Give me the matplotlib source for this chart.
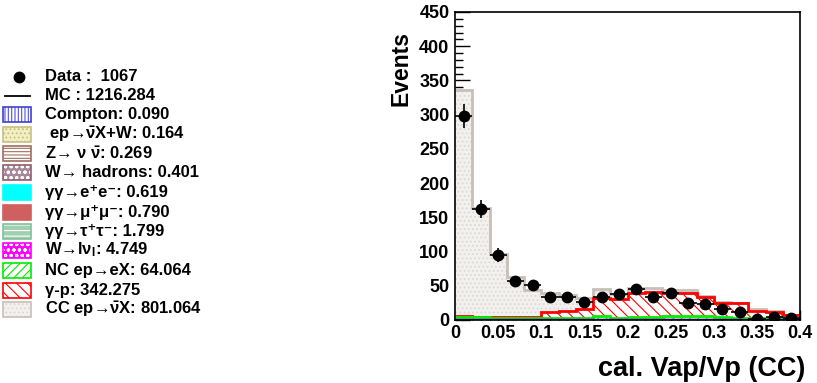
import numpy as np
import matplotlib
matplotlib.use('Agg')
import matplotlib.pyplot as plt
from matplotlib.patches import Rectangle
from matplotlib.lines import Line2D
from matplotlib.ticker import MultipleLocator, FormatStrFormatter

plt.rcParams['font.family'] = ['Liberation Sans', 'DejaVu Sans']
plt.rcParams['font.weight'] = 'bold'
plt.rcParams['mathtext.fontset'] = 'dejavusans'
plt.rcParams['mathtext.default'] = 'regular'
plt.rcParams['hatch.linewidth'] = 0.8

# bins: 20 bins of 0.02 from 0 to 0.4
edges = np.linspace(0, 0.4, 21)
centres = edges[:-1] + 0.01

# data points
data = [298, 162, 95, 57, 51, 34, 34, 26, 33, 38,
        45, 33, 40, 25, 24, 16, 11, 2, 5, 3]

# MC components, bottom of the stack first
compton = [0.01, 0.01, 0.01, 0, 0, 0, 0, 0, 0.01, 0, 0.01, 0, 0.01, 0, 0.01, 0, 0, 0.01, 0, 0.01]
ep_nu_w = [0.01, 0.01, 0.01, 0.01, 0.01, 0.01, 0.01, 0.01, 0.01, 0.01, 0.01, 0.01, 0.01, 0.01, 0.01, 0.01, 0.01, 0.01, 0.01, 0.0]
z_nunu = [0.02, 0.02, 0.01, 0.01, 0.01, 0.01, 0.01, 0.01, 0.01, 0.02, 0.02, 0.02, 0.02, 0.01, 0.02, 0.01, 0.01, 0.01, 0.01, 0.01]
w_had = [0.01, 0.01, 0.01, 0.01, 0.01, 0.02, 0.02, 0.02, 0.02, 0.03, 0.03, 0.03, 0.03, 0.03, 0.03, 0.02, 0.02, 0.02, 0.02, 0.01]
gg_ee = [0.05, 0.05, 0.04, 0.04, 0.03, 0.03, 0.03, 0.03, 0.03, 0.03, 0.03, 0.03, 0.03, 0.03, 0.03, 0.02, 0.02, 0.02, 0.02, 0.02]
gg_mumu = [0.06, 0.06, 0.05, 0.05, 0.04, 0.04, 0.04, 0.04, 0.04, 0.04, 0.04, 0.04, 0.04, 0.04, 0.03, 0.03, 0.03, 0.03, 0.03, 0.03]
gg_tautau = [0.15, 0.14, 0.12, 0.11, 0.10, 0.09, 0.09, 0.09, 0.09, 0.09, 0.09, 0.08, 0.08, 0.08, 0.07, 0.07, 0.07, 0.06, 0.06, 0.05]
w_lnu = [0.30, 0.30, 0.28, 0.27, 0.26, 0.25, 0.25, 0.24, 0.24, 0.24, 0.24, 0.23, 0.23, 0.23, 0.22, 0.22, 0.21, 0.21, 0.20, 0.20]
nc = [4.5, 4.0, 3.0, 3.0, 3.0, 2.5, 3.0, 3.0, 6.0, 3.0,
      3.5, 4.5, 5.0, 5.0, 5.0, 4.0, 3.0, 2.0, 2.0, 1.5]
gamma_p = [0.5, 0.5, 1, 1, 1, 9, 9, 13, 26, 27,
           36, 36, 34, 34, 28, 21, 21, 11, 10, 5]
cc = [331, 158, 92, 58, 39, 27, 24, 15, 13, 8,
      7, 6, 4, 4, 2, 1, 1, 2, 1, 1]

labels = ['Compton: 0.090',
          ' ep\u2192$\\bar{\\nu}$X+W: 0.164',
          'Z\u2192 \u03bd $\\bar{\\nu}$: 0.269',
          'W\u2192 hadrons: 0.401',
          '\u03b3\u03b3\u2192e\u207ae\u207b: 0.619',
          '\u03b3\u03b3\u2192\u03bc\u207a\u03bc\u207b: 0.790',
          '\u03b3\u03b3\u2192\u03c4\u207a\u03c4\u207b: 1.799',
          'W\u2192l\u03bd$_{l}$: 4.749',
          'NC ep\u2192eX: 64.064',
          '\u03b3-p: 342.275',
          'CC ep\u2192$\\bar{\\nu}$X: 801.064']

# (face, hatch, hatch colour, line colour)
styles = [('white', '|||||', '#5050e0', '#4040d0'),
          ('#f2eec8', '....', '#c8c070', '#c8c080'),
          ('white', '-----', '#a07060', '#a07060'),
          ('#a88898', 'ooo', 'white', '#906070'),
          ('#00ffff', '', '#00ffff', '#00ffff'),
          ('#d06060', '', '#d06060', '#d06060'),
          ('#a0d0b0', '---', 'white', '#80c0a0'),
          ('#ff00ff', 'ooo', 'white', '#ff00ff'),
          ('white', '////', '#00ee00', '#00ee00'),
          ('white', '\\\\\\', '#ff0000', '#ff0000'),
          ('#f3f1ef', '....', '#dcd8d4', '#c8c0b8')]

components = [compton, ep_nu_w, z_nunu, w_had, gg_ee, gg_mumu, gg_tautau,
              w_lnu, nc, gamma_p, cc]
cumul = np.cumsum(np.array(components, dtype=float), axis=0)

fig = plt.figure(figsize=(8.17, 3.83), dpi=100)
ax = fig.add_axes([455 / 817, 1 - 320 / 383, 345 / 817, 308 / 383])

# THStack style: draw cumulative histograms from the top down
for i in range(len(components) - 1, -1, -1):
    face, hatch, hcol, lcol = styles[i]
    z = 2 + (len(components) - i) * 0.1
    ax.stairs(cumul[i], edges, baseline=0, fill=True, facecolor=face,
              hatch=hatch, edgecolor=hcol, linewidth=0, zorder=z)
    lw = 2.0 if i >= 8 else 1.5
    ax.stairs(cumul[i], edges, baseline=None, color=lcol, linewidth=lw, zorder=z + 0.05)
# Compton line at the bottom
ax.stairs(cumul[0], edges, baseline=None, color='#4040d0', linewidth=2.5, zorder=4)

yerr = np.sqrt(np.array(data, dtype=float))
ax.errorbar(centres, data, xerr=0.01, yerr=yerr, fmt='o', color='black',
            markersize=7.5, elinewidth=1.2, capsize=0, zorder=6)

ax.set_xlim(0, 0.4)
ax.set_ylim(0, 450)
ax.xaxis.set_major_locator(MultipleLocator(0.05))
ax.xaxis.set_minor_locator(MultipleLocator(0.01))
ax.yaxis.set_major_locator(MultipleLocator(50))
ax.yaxis.set_minor_locator(MultipleLocator(10))
ax.xaxis.set_major_formatter(FormatStrFormatter('%g'))
ax.tick_params(axis='both', which='both', direction='in', top=False, right=False,
               width=1.0, labelsize=13)
ax.tick_params(axis='x', which='major', length=7.2, pad=3.5)
ax.tick_params(axis='x', which='minor', length=3.6)
ax.tick_params(axis='y', which='major', length=10.8, pad=4)
ax.tick_params(axis='y', which='minor', length=5.8)
for lab in ax.get_xticklabels() + ax.get_yticklabels():
    lab.set_fontweight('bold')
for s in ax.spines.values():
    s.set_linewidth(1.2)
    s.set_zorder(10)

fig.text(401 / 817, 1 - 31 / 383, 'Events', rotation=90, ha='center', va='top',
         fontsize=16.5, fontweight='bold')
fig.text(805 / 817, 1 - 369 / 383, 'cal. Vap/Vp (CC)', ha='right', va='center',
         fontsize=19.5, fontweight='bold')

# legend on the left
lg = fig.add_axes([0, 0, 1, 1], facecolor='none')
lg.set_xlim(0, 817)
lg.set_ylim(383, 0)
lg.axis('off')
row_y = [76.5, 95.5, 114.5, 134, 153.5, 172.5, 192.5, 212, 231.5, 250, 270, 290, 309.5]
lg.add_line(Line2D([19], [row_y[0]], marker='o', color='black', markersize=7.5))
lg.add_line(Line2D([5, 30], [row_y[1], row_y[1]], color='black', linewidth=1.3))
lg.text(45, row_y[0], 'Data :  1067', va='center', fontsize=12, fontweight='bold')
lg.text(45, row_y[1], 'MC : 1216.284', va='center', fontsize=12, fontweight='bold')
for k, (lab, st) in enumerate(zip(labels, styles)):
    face, hatch, hcol, lcol = st
    y = row_y[k + 2]
    lg.add_patch(Rectangle((3.5, y - 7.5), 28, 15, facecolor=face, hatch=hatch,
                           edgecolor=hcol, linewidth=0))
    lg.add_patch(Rectangle((3.5, y - 7.5), 28, 15, facecolor='none',
                           edgecolor=lcol, linewidth=1.2))
    lg.text(45, y, lab, va='center', fontsize=12, fontweight='bold')

fig.savefig('out.png', dpi=100)
